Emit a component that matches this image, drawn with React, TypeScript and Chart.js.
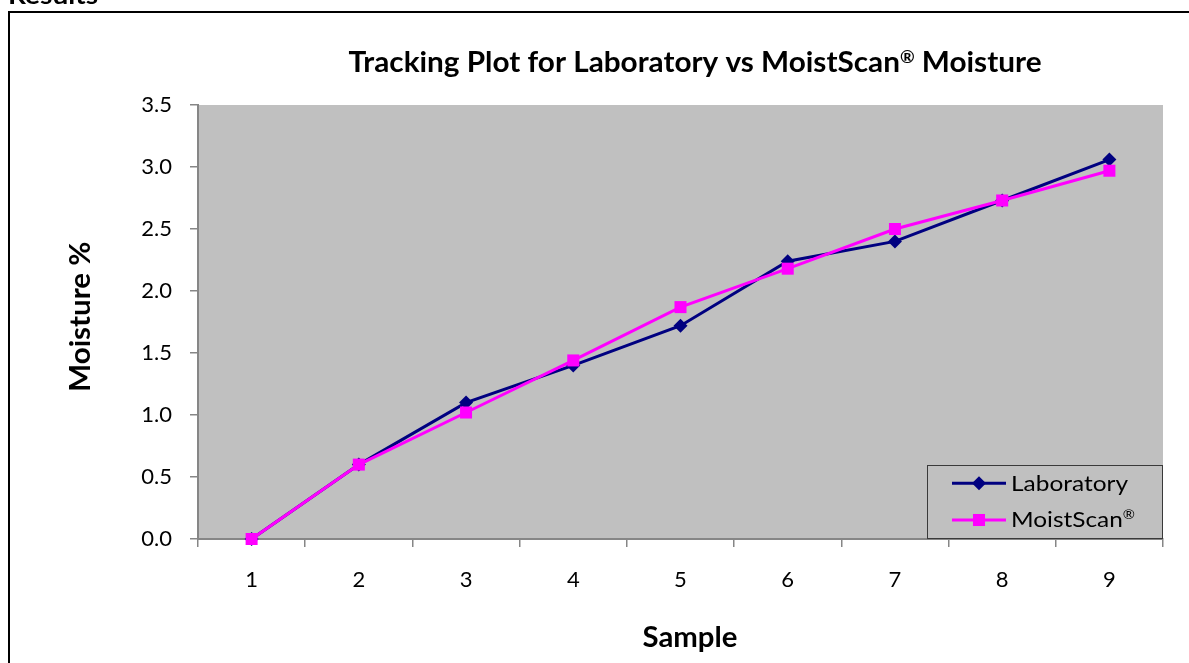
import React, { useEffect, useRef } from "react";
import { Chart, registerables } from "chart.js";
Chart.register(...registerables);

const samples = ["1", "2", "3", "4", "5", "6", "7", "8", "9"];
const laboratory = [0, 0.6, 1.1, 1.4, 1.72, 2.24, 2.4, 2.73, 3.06];
const moistScan = [0, 0.6, 1.02, 1.44, 1.87, 2.18, 2.5, 2.73, 2.97];
const yMin = 0;
const yMax = 3.5;
const yStep = 0.5;

const FONT = "Lato";
const LAB_COLOR = "#000080";
const MS_COLOR = "#FF00FF";
const PLOT_BG = "#C0C0C0";
const AXIS_GRAY = "#868686";

type Seg = { text: string; sup?: boolean };

function drawRich(
  ctx: CanvasRenderingContext2D,
  segs: Seg[],
  size: number,
  weight: string,
  x: number,
  y: number,
  targetW: number,
  align: "center" | "left",
  rotate = 0
) {
  const supSize = size * 0.6;
  const fontN = `${weight} ${size}px ${FONT}`;
  const fontS = `${weight} ${supSize}px ${FONT}`;
  ctx.save();
  ctx.textBaseline = "alphabetic";
  ctx.textAlign = "left";
  const widths = segs.map((s) => {
    ctx.font = s.sup ? fontS : fontN;
    return ctx.measureText(s.text).width;
  });
  const W = widths.reduce((a, b) => a + b, 0);
  const sx = targetW / W;
  ctx.translate(x, y);
  if (rotate) ctx.rotate(rotate);
  ctx.scale(sx, 1);
  let cx = align === "center" ? -W / 2 : 0;
  ctx.fillStyle = "#000";
  segs.forEach((s, i) => {
    ctx.font = s.sup ? fontS : fontN;
    ctx.fillText(s.text, cx, s.sup ? -size * 0.33 : 0);
    cx += widths[i];
  });
  ctx.restore();
}

const decorPlugin = {
  id: "decor",
  beforeDraw(chart: any) {
    const { ctx, chartArea } = chart;
    ctx.save();
    ctx.fillStyle = PLOT_BG;
    ctx.fillRect(chartArea.left, chartArea.top, chartArea.right - chartArea.left, chartArea.bottom - chartArea.top);
    // outer frame
    ctx.strokeStyle = "#000";
    ctx.lineWidth = 2;
    ctx.beginPath();
    ctx.moveTo(9, 700);
    ctx.lineTo(9, 12);
    ctx.lineTo(1200, 12);
    ctx.stroke();
    ctx.restore();
    drawRich(ctx, [{ text: "Results" }], 24, "bold", 8, 4, 90, "left");
  },
  afterDraw(chart: any) {
    const { ctx, chartArea } = chart;
    // titles
    drawRich(
      ctx,
      [{ text: "Tracking Plot for Laboratory vs MoistScan" }, { text: "®", sup: true }, { text: " Moisture" }],
      29,
      "bold",
      695,
      72.3,
      693,
      "center"
    );
    drawRich(ctx, [{ text: "Sample" }], 29, "bold", 690, 646.5, 95, "center");
    drawRich(ctx, [{ text: "Moisture %" }], 29, "bold", 90, 316.7, 150, "center", -Math.PI / 2);

    // legend
    const right = chartArea.right;
    const bottom = chartArea.bottom;
    const boxL = 927;
    const boxT = 465;
    ctx.save();
    ctx.strokeStyle = "#3a3a3a";
    ctx.lineWidth = 1;
    ctx.strokeRect(boxL + 0.5, boxT + 0.5, right - boxL - 1, bottom - boxT - 1);
    const ds = chart.data.datasets;
    const rows = [483.3, 520];
    const texts: Seg[][] = [[{ text: ds[0].label }], [{ text: "MoistScan" }, { text: "®", sup: true }]];
    const tw = [117, 124];
    const baselines = [490.7, 526.5];
    ds.forEach((d: any, i: number) => {
      const y = rows[i];
      ctx.strokeStyle = d.borderColor;
      ctx.lineWidth = 3;
      ctx.beginPath();
      ctx.moveTo(952, y);
      ctx.lineTo(1006, y);
      ctx.stroke();
      ctx.fillStyle = d.backgroundColor;
      const mx = 979;
      if (d.pointStyle === "rectRot") {
        const r = d.pointRadius;
        ctx.beginPath();
        ctx.moveTo(mx, y - r);
        ctx.lineTo(mx + r, y);
        ctx.lineTo(mx, y + r);
        ctx.lineTo(mx - r, y);
        ctx.closePath();
        ctx.fill();
      } else {
        const s = d.pointRadius * Math.SQRT1_2;
        ctx.fillRect(mx - s, y - s, 2 * s, 2 * s);
      }
      drawRich(ctx, texts[i], 22, "normal", 1011, baselines[i], tw[i], "left");
    });
    ctx.restore();
  },
};

export default function App() {
  const ref = useRef<HTMLCanvasElement | null>(null);
  useEffect(() => {
    if (!ref.current) return;
    const chart = new Chart(ref.current, {
      type: "line",
      data: {
        labels: samples,
        datasets: [
          {
            label: "Laboratory",
            data: laboratory,
            borderColor: LAB_COLOR,
            backgroundColor: LAB_COLOR,
            borderWidth: 3,
            pointStyle: "rectRot",
            pointRadius: 7,
            pointBorderWidth: 0,
            pointBackgroundColor: LAB_COLOR,
            tension: 0,
            clip: false as any,
            order: 1,
          },
          {
            label: "MoistScan®",
            data: moistScan,
            borderColor: MS_COLOR,
            backgroundColor: MS_COLOR,
            borderWidth: 3,
            pointStyle: "rect",
            pointRadius: 8.5,
            pointBorderWidth: 0,
            pointBackgroundColor: MS_COLOR,
            tension: 0,
            clip: false as any,
            order: 0,
          },
        ],
      },
      options: {
        animation: false,
        responsive: false,
        layout: { padding: { left: 0, top: 105, right: 26, bottom: 0 } },
        plugins: {
          legend: { display: false },
          title: { display: false },
          tooltip: { enabled: false },
        },
        scales: {
          x: {
            offset: true,
            grid: {
              offset: true,
              drawOnChartArea: false,
              drawTicks: true,
              tickLength: 8,
              color: AXIS_GRAY,
              lineWidth: 1.5,
            },
            border: { color: AXIS_GRAY, width: 2 },
            ticks: {
              color: "#000",
              padding: 20,
              font: { family: FONT, size: 22 },
              maxRotation: 0,
            },
            afterFit: (s: any) => {
              s.height = 124;
            },
          },
          y: {
            min: yMin,
            max: yMax,
            grid: {
              drawOnChartArea: false,
              drawTicks: true,
              tickLength: 8,
              color: AXIS_GRAY,
              lineWidth: 1.5,
            },
            border: { color: AXIS_GRAY, width: 2 },
            ticks: {
              stepSize: yStep,
              color: "#000",
              padding: 18,
              font: { family: FONT, size: 22 },
              callback: (v: any) => Number(v).toFixed(1),
            },
            afterFit: (s: any) => {
              s.width = 198;
            },
          },
        },
      },
      plugins: [decorPlugin],
    });
    return () => chart.destroy();
  }, []);
  return (
    <div style={{ position: "absolute", left: 0, top: 0, width: 1189, height: 663, background: "#fff" }}>
      <canvas ref={ref} width={1189} height={663} style={{ display: "block" }} />
    </div>
  );
}
